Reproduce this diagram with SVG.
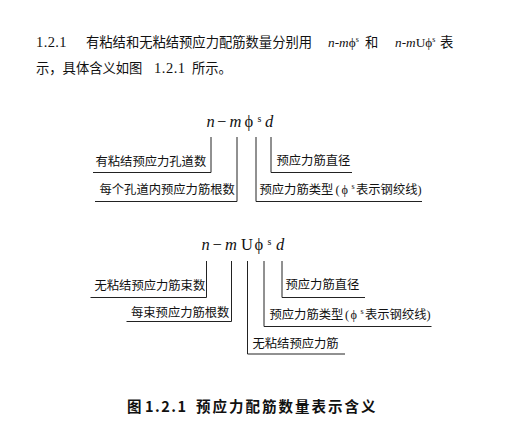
<svg xmlns="http://www.w3.org/2000/svg" width="509" height="435" viewBox="0 0 509 435">
<style>
  .t { font-family: "Liberation Serif", "Noto Sans CJK SC", serif; fill: #111; }
  .p { font-size: 13.3px; }
  .d { font-size: 14.5px; }
  .lbl { font-size: 12.3px; }
  .f { font-family: "Liberation Serif", serif; font-size: 16.5px; fill: #111; }
  .i { font-style: italic; }
  .sup { font-size: 10px; }
  .cap { font-family: "Noto Sans CJK SC", "Liberation Sans", sans-serif; font-size: 14.5px; font-weight: bold; fill: #111; letter-spacing: 2px; }
  .c { fill: none; stroke: #222; stroke-width: 1; }
</style>
<rect width="509" height="435" fill="#fff"/>

<g id="paragraph">
  <text class="t d" x="36" y="47" textLength="30.5" lengthAdjust="spacing">1.2.1</text>
  <text class="t p" x="86" y="47">有粘结和无粘结预应力配筋数量分别用</text>
  <text class="t p" x="328" y="47"><tspan class="i">n</tspan>-<tspan class="i">m</tspan>ϕ<tspan font-size="8" dy="-5">s</tspan></text>
  <text class="t p" x="365" y="47">和</text>
  <text class="t p" x="395" y="47"><tspan class="i">n</tspan>-<tspan class="i">m</tspan>Uϕ<tspan font-size="8" dy="-5">s</tspan></text>
  <text class="t p" x="440" y="47">表</text>
  <text class="t p" x="36" y="72.5">示，具体含义如图</text>
  <text class="t d" x="154" y="72.5" textLength="31" lengthAdjust="spacing">1.2.1</text>
  <text class="t p" x="192" y="72.5">所示。</text>
</g>

<g id="formula1">
  <text class="f" y="127">
    <tspan class="i" x="206.5">n</tspan><tspan x="217">−</tspan><tspan class="i" x="229.5">m</tspan><tspan x="244.5">ϕ</tspan><tspan class="sup" x="257.5" y="122">s</tspan><tspan class="i" x="265" y="127">d</tspan>
  </text>
</g>

<g id="label1-n"><text class="t lbl" x="95.5" y="165.5">有粘结预应力孔道数</text></g>
<g id="label1-m"><text class="t lbl" x="99.5" y="194">每个孔道内预应力筋根数</text></g>
<g id="label1-d"><text class="t lbl" x="276.5" y="165">预应力筋直径</text></g>
<g id="label1-phi"><text class="t lbl" y="194"><tspan x="259.5">预应力筋类型</tspan><tspan x="335.5">(</tspan><tspan x="341.5">ϕ</tspan><tspan font-size="8" x="351.5" y="189">s</tspan><tspan x="356" y="194">表示钢绞线)</tspan></text></g>

<g id="formula2">
  <text class="f" y="250">
    <tspan class="i" x="201.5">n</tspan><tspan x="212.5">−</tspan><tspan class="i" x="225">m</tspan><tspan x="241">U</tspan><tspan x="254.5">ϕ</tspan><tspan class="sup" x="267.5" y="245">s</tspan><tspan class="i" x="276" y="250">d</tspan>
  </text>
</g>

<g id="label2-n"><text class="t lbl" x="94.5" y="290">无粘结预应力筋束数</text></g>
<g id="label2-m"><text class="t lbl" x="131" y="317">每束预应力筋根数</text></g>
<g id="label2-d"><text class="t lbl" x="285.5" y="289">预应力筋直径</text></g>
<g id="label2-phi"><text class="t lbl" y="319"><tspan x="269.5">预应力筋类型</tspan><tspan x="345">(</tspan><tspan x="350.5">ϕ</tspan><tspan font-size="8" x="360.5" y="314">s</tspan><tspan x="365" y="319">表示钢绞线)</tspan></text></g>
<g id="label2-U"><text class="t lbl" x="252.5" y="347.5">无粘结预应力筋</text></g>

<g id="connectors">
  <path class="c" d="M211 137 V172.5 H93"/>
  <path class="c" d="M237 137 V201.5 H95"/>
  <path class="c" d="M256 137 V201.5 H422"/>
  <path class="c" d="M271 137 V172.5 H352"/>
  <path class="c" d="M206.5 261 V297.5 H90.5"/>
  <path class="c" d="M231.5 261 V321.5 H126.5"/>
  <path class="c" d="M247.5 261 V354 H345"/>
  <path class="c" d="M264 261 V326.5 H431.5"/>
  <path class="c" d="M282 261 V297.5 H365"/>
</g>

<g id="caption">
  <text class="cap" x="127" y="411.5">图</text>
  <text class="cap" x="145" y="411.5" letter-spacing="0" textLength="43" lengthAdjust="spacing">1.2.1</text>
  <text class="cap" x="196" y="411.5">预应力配筋数量表示含义</text>
</g>
</svg>
